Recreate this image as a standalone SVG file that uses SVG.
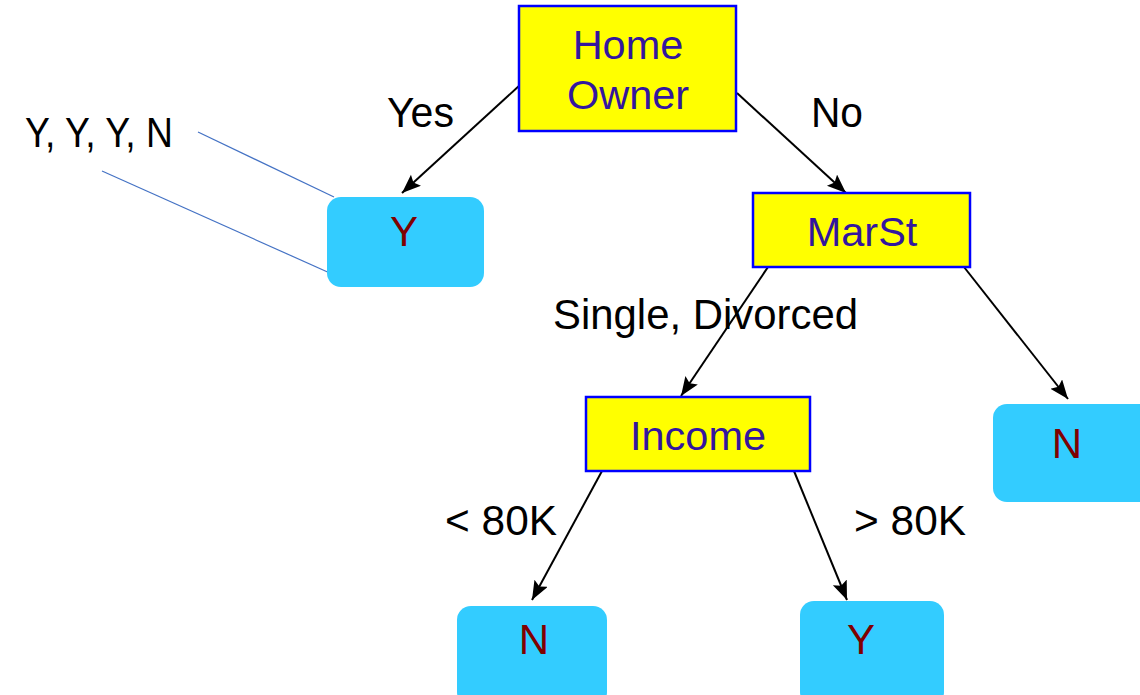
<svg xmlns="http://www.w3.org/2000/svg" width="1140" height="695" viewBox="0 0 1140 695">
<style>
.dec{fill:#FFFF00;stroke:#0000FF;stroke-width:2.5}
.leaf{fill:#33CCFF}
.dt{font-family:"Liberation Sans",Arial,sans-serif;font-size:41.5px;fill:#33169E;text-anchor:middle}
.lt{font-family:"Liberation Sans",Arial,sans-serif;font-size:42px;fill:#800000;text-anchor:middle}
.lab{font-family:"Liberation Sans",Arial,sans-serif;font-size:42px;fill:#000000}
.edge{stroke:#000000;stroke-width:2;fill:none;marker-end:url(#ah)}
.note{stroke:#4472C4;stroke-width:1.2;fill:none}
</style>
<defs>
<marker id="ah" markerUnits="userSpaceOnUse" markerWidth="22" markerHeight="16" refX="19" refY="7.5" orient="auto">
<path d="M0,0 L19,7.5 L0,15 L3.5,7.5 z" fill="#000000"/>
</marker>
</defs>
<rect width="1140" height="695" fill="#FFFFFF"/>
<g id="connectors">
<line class="edge" x1="520" y1="85" x2="402" y2="193"/>
<line class="edge" x1="737" y1="93" x2="846" y2="193"/>
<line class="edge" x1="768" y1="267" x2="681" y2="396"/>
<line class="edge" x1="964" y1="267" x2="1068" y2="399"/>
<line class="edge" x1="602" y1="471" x2="532" y2="600"/>
<line class="edge" x1="794" y1="471" x2="847" y2="600"/>
<line class="note" x1="198" y1="132" x2="334" y2="197"/>
<line class="note" x1="102" y1="171" x2="332" y2="274"/>
</g>
<g id="labels">
<text class="lab" x="25" y="147" textLength="148" lengthAdjust="spacingAndGlyphs">Y, Y, Y, N</text>
<text class="lab" x="387" y="127" textLength="67" lengthAdjust="spacingAndGlyphs">Yes</text>
<text class="lab" x="811" y="127" textLength="52" lengthAdjust="spacingAndGlyphs">No</text>
<text class="lab" x="553" y="329" textLength="305" lengthAdjust="spacingAndGlyphs">Single, Divorced</text>
<text class="lab" x="445" y="535" textLength="112" lengthAdjust="spacingAndGlyphs">&lt; 80K</text>
<text class="lab" x="854" y="535" textLength="112" lengthAdjust="spacingAndGlyphs">&gt; 80K</text>
</g>
<g id="node-homeowner">
<rect class="dec" x="519" y="6" width="217" height="125"/>
<text class="dt" x="628" y="59">Home</text>
<text class="dt" x="628" y="109">Owner</text>
</g>
<g id="node-leaf-yes">
<rect class="leaf" x="327" y="197" width="157" height="90" rx="14"/>
<text class="lt" x="404" y="246">Y</text>
</g>
<g id="node-marst">
<rect class="dec" x="753" y="193" width="217" height="74"/>
<text class="dt" x="862" y="246">MarSt</text>
</g>
<g id="node-income">
<rect class="dec" x="586" y="397" width="224" height="74"/>
<text class="dt" x="698" y="450">Income</text>
</g>
<g id="node-leaf-married">
<rect class="leaf" x="993" y="404" width="160" height="98" rx="14"/>
<text class="lt" x="1067" y="458">N</text>
</g>
<g id="node-leaf-low">
<rect class="leaf" x="457" y="606" width="150" height="100" rx="14"/>
<text class="lt" x="534" y="654">N</text>
</g>
<g id="node-leaf-high">
<rect class="leaf" x="800" y="601" width="144" height="105" rx="14"/>
<text class="lt" x="861" y="654">Y</text>
</g>
</svg>
